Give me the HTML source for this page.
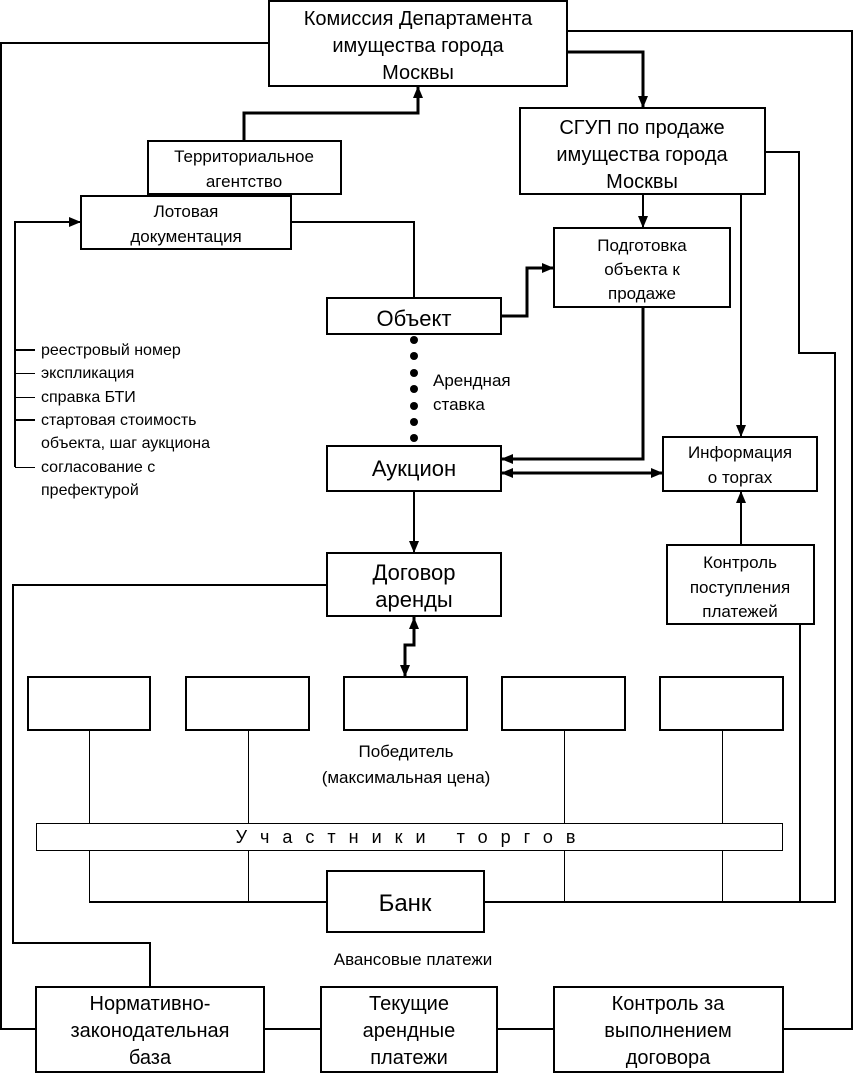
<!DOCTYPE html>
<html><head><meta charset="utf-8"><style>
html,body{margin:0;padding:0;background:#fff;}
svg{display:block;}
text{font-family:"Liberation Sans",sans-serif;fill:#000;}
</style></head><body>
<svg width="854" height="1073" viewBox="0 0 854 1073" xmlns="http://www.w3.org/2000/svg">
<defs>
<marker id="a" viewBox="0 0 12 10" refX="12" refY="5" markerWidth="12" markerHeight="10" orient="auto-start-reverse" markerUnits="userSpaceOnUse"><path d="M0,0 L12,5 L0,10 z"/></marker>
</defs>
<g fill="none" stroke="#000">
<g stroke-width="2">
<rect x="269" y="1" width="298" height="85"/>
<rect x="520" y="108" width="245" height="86"/>
<rect x="148" y="141" width="193" height="53"/>
<rect x="81" y="196" width="210" height="53"/>
<rect x="554" y="228" width="176" height="79"/>
<rect x="327" y="298" width="174" height="36"/>
<rect x="327" y="446" width="174" height="45"/>
<rect x="663" y="437" width="154" height="54"/>
<rect x="667" y="545" width="147" height="79"/>
<rect x="327" y="553" width="174" height="63"/>
<rect x="28" y="677" width="122" height="53"/>
<rect x="186" y="677" width="123" height="53"/>
<rect x="344" y="677" width="123" height="53"/>
<rect x="502" y="677" width="123" height="53"/>
<rect x="660" y="677" width="123" height="53"/>
<rect x="327" y="871" width="157" height="61"/>
<rect x="36" y="987" width="228" height="85"/>
<rect x="321" y="987" width="176" height="85"/>
<rect x="554" y="987" width="229" height="85"/>
</g>
<g stroke-width="2">
<polyline points="269,43 1,43 1,1029 36,1029"/>
<polyline points="567,31 852,31 852,1029 783,1029"/>
<line x1="264" y1="1029" x2="321" y2="1029"/>
<line x1="497" y1="1029" x2="554" y2="1029"/>
<polyline points="765,152 799,152 799,353 835,353 835,902 484,902"/>
<line x1="327" y1="902" x2="89" y2="902"/>
<line x1="800" y1="624" x2="800" y2="902"/>
<polyline points="291,222 414,222 414,298"/>
<polyline points="327,585 13,585 13,943 150,943 150,987"/>
<line x1="741" y1="194" x2="741" y2="437" marker-end="url(#a)"/>
<line x1="741" y1="545" x2="741" y2="491" marker-end="url(#a)"/>
<line x1="414" y1="491" x2="414" y2="553" marker-end="url(#a)"/>
<line x1="643" y1="194" x2="643" y2="228" marker-end="url(#a)"/>
<polyline points="15,467 15,222 81,222" marker-end="url(#a)"/>
<line x1="15" y1="350" x2="35" y2="350"/>
<line x1="15" y1="420" x2="35" y2="420"/>
</g>
<g stroke-width="1">
<line x1="15" y1="373.5" x2="35" y2="373.5"/>
<line x1="15" y1="397.5" x2="35" y2="397.5"/>
<line x1="15" y1="467.5" x2="35" y2="467.5"/>
<rect x="36.5" y="823.5" width="746" height="27"/>
<line x1="89.5" y1="730" x2="89.5" y2="823"/><line x1="89.5" y1="851" x2="89.5" y2="902"/>
<line x1="248.5" y1="730" x2="248.5" y2="823"/><line x1="248.5" y1="851" x2="248.5" y2="902"/>
<line x1="564.5" y1="730" x2="564.5" y2="823"/><line x1="564.5" y1="851" x2="564.5" y2="902"/>
<line x1="722.5" y1="730" x2="722.5" y2="823"/><line x1="722.5" y1="851" x2="722.5" y2="902"/>
</g>
<g stroke-width="3">
<polyline points="567,52 643,52 643,108" marker-end="url(#a)"/>
<polyline points="244,141 244,113 418,113 418,86" marker-end="url(#a)"/>
<polyline points="501,316 527,316 527,268 554,268" marker-end="url(#a)"/>
<polyline points="643,307 643,459 501,459" marker-end="url(#a)"/>
<line x1="501" y1="473" x2="663" y2="473" marker-start="url(#a)" marker-end="url(#a)"/>
<polyline points="414,617 414,645 405,645 405,677" marker-start="url(#a)" marker-end="url(#a)"/>
</g>
</g>
<g fill="#000">
<circle cx="414" cy="340" r="4"/><circle cx="414" cy="356" r="4"/><circle cx="414" cy="373" r="4"/><circle cx="414" cy="389" r="4"/><circle cx="414" cy="406" r="4"/><circle cx="414" cy="422" r="4"/><circle cx="414" cy="438" r="4"/>
</g>
<g font-size="20" text-anchor="middle">
<text x="418" y="25">Комиссия Департамента</text>
<text x="418" y="52">имущества города</text>
<text x="418" y="79">Москвы</text>
<text x="642" y="134">СГУП по продаже</text>
<text x="642" y="161">имущества города</text>
<text x="642" y="188">Москвы</text>
<text x="414" y="326" font-size="22">Объект</text>
<text x="414" y="476" font-size="22">Аукцион</text>
<text x="414" y="580" font-size="22">Договор</text>
<text x="414" y="607" font-size="22">аренды</text>
<text x="405" y="911" font-size="24">Банк</text>
<text x="150" y="1010">Нормативно-</text>
<text x="150" y="1037">законодательная</text>
<text x="150" y="1064">база</text>
<text x="409" y="1010">Текущие</text>
<text x="409" y="1037">арендные</text>
<text x="409" y="1064">платежи</text>
<text x="668" y="1010">Контроль за</text>
<text x="668" y="1037">выполнением</text>
<text x="668" y="1064">договора</text>
</g>
<g font-size="17" text-anchor="middle">
<text x="244" y="162">Территориальное</text>
<text x="244" y="187">агентство</text>
<text x="186" y="217">Лотовая</text>
<text x="186" y="242">документация</text>
<text x="642" y="251">Подготовка</text>
<text x="642" y="275">объекта к</text>
<text x="642" y="299">продаже</text>
<text x="740" y="458">Информация</text>
<text x="740" y="483">о торгах</text>
<text x="740" y="568">Контроль</text>
<text x="740" y="593">поступления</text>
<text x="740" y="617">платежей</text>
<text x="406" y="757">Победитель</text>
<text x="406" y="783">(максимальная цена)</text>
<text x="413" y="965">Авансовые платежи</text>
</g>
<g font-size="16">
<text x="41" y="355">реестровый номер</text>
<text x="41" y="378">экспликация</text>
<text x="41" y="402">справка БТИ</text>
<text x="41" y="425">стартовая стоимость</text>
<text x="41" y="448">объекта, шаг аукциона</text>
<text x="41" y="472">согласование с</text>
<text x="41" y="495">префектурой</text>
<text x="433" y="386" font-size="17">Арендная</text>
<text x="433" y="410" font-size="17">ставка</text>
</g>
<text x="412" y="843" font-size="18" text-anchor="middle" letter-spacing="13">Участники торгов</text>
</svg>
</body></html>
